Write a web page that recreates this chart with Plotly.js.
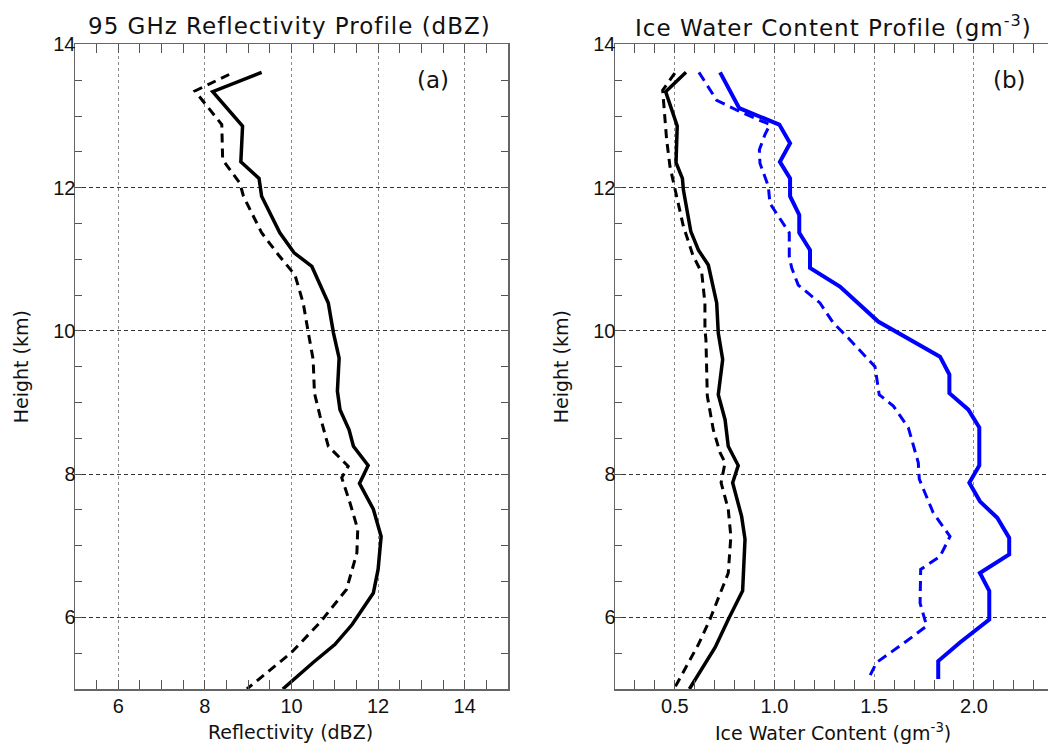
<!DOCTYPE html>
<html><head><meta charset="utf-8">
<script src="https://cdn.plot.ly/plotly-3.0.1.min.js"></script>
<style>html,body{margin:0;padding:0;background:#fff;overflow:hidden}</style>
</head><body><div id="chart" style="width:1048px;height:746px"></div>
<script>
// Panel (a): 95 GHz reflectivity (dBZ) vs height (km)
const reflSolidX = [9.31,8.18,8.87,8.83,9.25,9.31,9.73,10.06,10.47,10.85,10.97,11.10,11.06,11.12,11.33,11.43,11.77,11.57,11.89,12.07,12.00,11.89,11.40,11.00,10.50,9.80];
const reflSolidH = [13.61,13.34,12.86,12.36,12.13,11.88,11.37,11.09,10.90,10.39,9.97,9.62,9.16,8.90,8.62,8.39,8.12,7.87,7.51,7.13,6.67,6.34,5.90,5.62,5.37,5.00];
const reflDashX = [8.56,7.77,8.39,8.41,8.81,8.89,9.31,9.70,10.08,10.27,10.39,10.50,10.53,10.66,10.85,11.31,11.16,11.35,11.53,11.51,11.27,10.66,10.00,8.97];
const reflDashH = [13.58,13.35,12.88,12.39,12.06,11.88,11.37,11.06,10.78,10.39,9.97,9.60,9.13,8.81,8.39,8.11,7.95,7.60,7.23,6.90,6.39,5.93,5.51,5.00];

// Panel (b): ice water content (g m^-3) vs height (km)
const iwcBlackSolidX = [0.556,0.454,0.512,0.506,0.538,0.543,0.580,0.618,0.668,0.710,0.718,0.740,0.718,0.752,0.768,0.818,0.790,0.835,0.852,0.840,0.768,0.702,0.573];
const iwcBlackSolidH = [13.61,13.34,12.86,12.35,12.13,11.97,11.39,11.13,10.92,10.39,9.97,9.60,9.11,8.76,8.39,8.12,7.88,7.41,7.09,6.37,5.97,5.58,5.00];
const iwcBlackDashX = [0.500,0.439,0.459,0.476,0.509,0.543,0.590,0.635,0.651,0.651,0.656,0.663,0.693,0.727,0.752,0.732,0.768,0.781,0.768,0.702,0.676,0.618,0.496];
const iwcBlackDashH = [13.60,13.36,12.67,12.29,11.88,11.46,11.06,10.81,10.39,10.02,9.88,9.09,8.62,8.30,8.16,7.88,7.51,7.13,6.62,6.14,5.97,5.62,5.00];
const iwcBlueSolidX = [0.727,0.823,1.024,1.078,1.027,1.078,1.078,1.124,1.124,1.178,1.178,1.328,1.520,1.830,1.877,1.877,1.972,2.027,2.027,1.977,2.030,2.117,2.177,2.177,2.030,2.077,2.077,1.930,1.821,1.821];
const iwcBlueSolidH = [13.61,13.11,12.88,12.62,12.36,12.13,11.88,11.62,11.37,11.13,10.88,10.62,10.13,9.64,9.39,9.13,8.90,8.65,8.12,7.88,7.62,7.39,7.11,6.88,6.62,6.37,5.97,5.65,5.39,5.14];
const iwcBlueDashX = [0.621,0.710,0.827,0.977,0.952,0.924,0.927,0.969,0.977,1.019,1.074,1.074,1.086,1.119,1.228,1.295,1.370,1.504,1.525,1.596,1.671,1.721,1.726,1.796,1.880,1.830,1.733,1.730,1.763,1.663,1.512,1.470];
const iwcBlueDashH = [13.61,13.22,13.06,12.88,12.74,12.53,12.34,12.02,11.78,11.60,11.37,11.04,10.88,10.64,10.39,10.11,9.90,9.50,9.11,8.95,8.65,8.16,7.93,7.46,7.13,6.85,6.67,6.20,5.88,5.67,5.37,5.14];

const panelTitles = ['95 GHz Reflectivity Profile (dBZ)', 'Ice Water Content Profile (gm<sup>-3</sup>)'];
const xTitles = ['Reflectivity (dBZ)', 'Ice Water Content (gm<sup>-3</sup>)'];
const yTitle = 'Height (km)';
const panelTags = ['(a)', '(b)'];

const W = 1048, H = 746;
const textFont = 'DejaVu Sans, sans-serif';
const tickFont = {family: 'Liberation Sans, Arial, sans-serif', size: 20, color: '#111'};

function line(x, y, color, width, dash, xa, ya) {
  return {x: x, y: y, type: 'scatter', mode: 'lines', xaxis: xa, yaxis: ya,
    line: {color: color, width: width, dash: dash}, hoverinfo: 'x+y'};
}

const traces = [
  line(reflSolidX, reflSolidH, '#000', 3.5, 'solid', 'x', 'y'),
  line(reflDashX, reflDashH, '#000', 3, '9px,6px', 'x', 'y'),
  line(iwcBlackSolidX, iwcBlackSolidH, '#000', 3.5, 'solid', 'x2', 'y2'),
  line(iwcBlackDashX, iwcBlackDashH, '#000', 3, '9px,6px', 'x2', 'y2'),
  line(iwcBlueSolidX, iwcBlueSolidH, '#0000ff', 4, 'solid', 'x2', 'y2'),
  line(iwcBlueDashX, iwcBlueDashH, '#0000ff', 3, '10px,6px', 'x2', 'y2')
];

const yDom = [(H - 689) / H, (H - 44.4) / H];

function xAxis(domain, range, dtick, minorDtick, fmt, anchor) {
  return {
    domain: domain, range: range, anchor: anchor,
    dtick: dtick, tick0: 0, tickformat: fmt,
    ticks: 'inside', ticklen: 9, tickwidth: 1, tickcolor: '#555',
    minor: {dtick: minorDtick, tick0: 0, ticks: 'inside', ticklen: 9, tickwidth: 1, tickcolor: '#555', showgrid: false},
    showline: true, linecolor: '#666', linewidth: 1.5, mirror: 'allticks',
    showgrid: true, gridcolor: '#888', gridwidth: 1, griddash: 'dot',
    zeroline: false, tickfont: tickFont, ticklabelstandoff: -2,
    automargin: false, fixedrange: true
  };
}
function yAxis(mirror, anchor) {
  return {
    domain: yDom, range: [5, 14], anchor: anchor,
    dtick: 2, tick0: 0,
    ticks: 'inside', ticklen: 7, tickwidth: 1, tickcolor: '#555',
    minor: {dtick: 0.5, tick0: 0, ticks: 'inside', ticklen: 7, tickwidth: 1, tickcolor: '#555', showgrid: false},
    showline: true, linecolor: '#666', linewidth: 1.5, mirror: mirror,
    showgrid: true, gridcolor: '#333', gridwidth: 1, griddash: '4px,3px',
    zeroline: false, tickfont: tickFont, ticklabelstandoff: -6,
    title: {text: yTitle, font: {family: textFont, size: 19, color: '#111'}, standoff: 19},
    automargin: false, fixedrange: true
  };
}

const x2Left = 615 / W;
const x2Range = [0.2, 0.2 + (W - 615) / 199.4];

function ann(text, x, y, xref, yref, size, spacing) {
  const t = spacing ? '<span style="letter-spacing:' + spacing + 'px">' + text + '</span>' : text;
  return {text: t, xref: xref, yref: yref, x: x, y: y, xanchor: 'center', yanchor: 'middle',
    showarrow: false, font: {family: textFont, size: size, color: '#111'}};
}

const layout = {
  width: W, height: H,
  margin: {l: 0, r: 0, t: 0, b: 0},
  paper_bgcolor: '#fff', plot_bgcolor: '#fff',
  showlegend: false,
  xaxis: xAxis([75 / W, 508 / W], [5, 15], 2, 0.5, '', 'y'),
  yaxis: yAxis('allticks', 'x'),
  xaxis2: xAxis([x2Left, 1], x2Range, 0.5, 0.1, '.1f', 'y2'),
  yaxis2: yAxis(false, 'x2'),
  annotations: [
    ann(panelTitles[0], 289.5 / W, (H - 26) / H, 'paper', 'paper', 23, 1),
    ann(panelTitles[1], 833 / W, (H - 26) / H, 'paper', 'paper', 23, 1),
    ann(xTitles[0], 290 / W, (H - 732) / H, 'paper', 'paper', 19, 0),
    ann(xTitles[1], 833 / W, (H - 732) / H, 'paper', 'paper', 19, 0),
    ann(panelTags[0], 13.27, 13.5, 'x', 'y', 23, 0),
    ann(panelTags[1], 2.18, 13.5, 'x2', 'y2', 23, 0)
  ]
};

Plotly.newPlot('chart', traces, layout, {displayModeBar: false, staticPlot: true});
</script>
</body></html>
